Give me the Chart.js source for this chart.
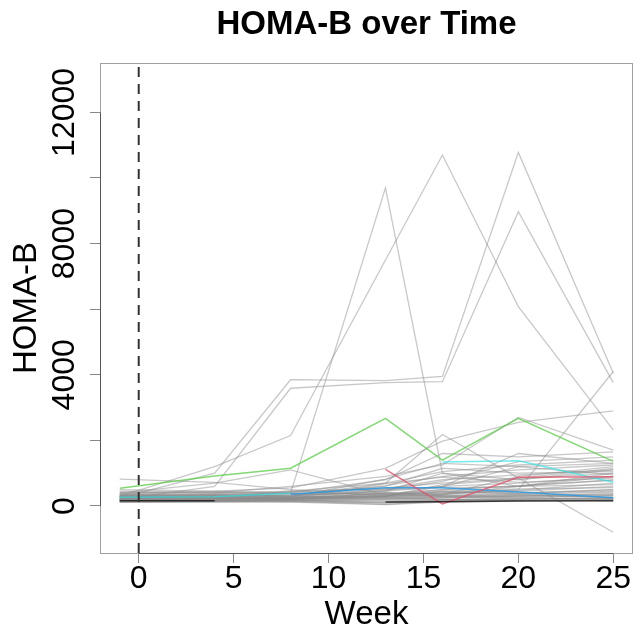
<!DOCTYPE html>
<html>
<head>
<meta charset="utf-8">
<title>HOMA-B over Time</title>
<script src="https://cdn.jsdelivr.net/npm/chart.js@4.4.1/dist/chart.umd.min.js"></script>
<style>
  html, body { margin: 0; padding: 0; background: #fff; }
  #wrap { width: 634px; height: 635px; }
</style>
</head>
<body>
<div id="wrap"><canvas id="homaChart" width="634" height="635"></canvas></div>
<script>
// ---- data ----
var weeks = [-1, 4, 8, 13, 16, 20, 25];
var xTicks = [0, 5, 10, 15, 20, 25];
var yTicks = [0, 2000, 4000, 6000, 8000, 10000, 12000];
var yLabelled = [0, 4000, 8000, 12000];
var baselineWeek = 0;

// highlighted subjects (null = missing visit)
var greenVals = [540, 915, 1150, 2670, 1400, 2670, 1360];
var cyanVals  = [264, 285, 386, null, 1341, 1382, 721];
var blueVals  = [null, null, 356, 559, 559, 427, 254];
var redVals   = [null, null, null, 1118, 61, 874, 894];
var blackVals = [160, 160, null, 120, 130, 150, 160];

// the rest of the subjects, drawn in gray
var grayVals = [
  [300, 1200, 2150, 7500, 10700, 6080, 2320],
  [250, 1000, 3850, 3820, 3950, 10780, 4050],
  [200, 600, 3590, 3760, 3790, 8970, 3760],
  [350, 300, 390, 9700, 1000, 600, 900],
  [300, 250, 450, 700, 2180, 850, -800],
  [400, 450, 550, 1150, 1980, 2550, 2900],
  [250, 300, 200, 400, 350, 500, 4100],
  [450, 400, 600, 900, 1250, 2700, 1700],
  [820, 720, 500, 300, 450, 400, 500],
  [400, 700, 1100, 330, 500, 600, 800],
  [300, 350, 400, 800, 1600, 1500, 1650],
  [180, 200, 230, 260, 300, 350, 420],
  [220, 240, 210, 330, 420, 380, 500],
  [150, 170, 190, 210, 250, 280, 300],
  [300, 280, 320, 450, 600, 700, 900],
  [260, 310, 280, 520, 800, 950, 1100],
  [120, 140, 160, 180, 200, 220, 240],
  [200, 190, 240, 380, 500, 620, 780],
  [350, 380, 300, 620, 900, 1100, 1250],
  [170, 160, 180, 150, 190, 210, 230],
  [240, 260, 300, 700, 1050, 1250, 1400],
  [280, 300, 350, 400, 380, 450, 600],
  [190, 220, 250, 300, 650, 820, 1000],
  [330, 350, 420, 550, 700, 850, 1150],
  [140, 150, 130, 100, 160, 180, 200],
  [210, 230, 280, 820, 1300, 1200, 1300],
  [160, 180, 210, 250, 280, 320, 360],
  [400, 420, 380, 500, 550, 600, 650],
  [250, 270, 230, 290, 350, 900, 1200],
  [130, 120, 150, 50, 150, 200, 260],
  [310, 290, 340, 600, 1150, 1000, 1050],
  [200, 210, 190, 230, 270, 300, 330],
  [270, 250, 260, 350, 450, 520, 560],
  [180, 200, 240, 480, 750, 1350, 1500],
  [230, 240, 270, 310, 400, 480, 700],
  [500, 450, 400, 350, 300, 250, 200],
  [160, 190, 220, 680, 880, 720, 850],
  [290, 320, 280, 250, 200, 180, 150],
  [210, 180, 200, 300, 600, 1600, 1300],
  [140, 160, 200, 280, 320, 400, 450],
  [380, 400, 450, 520, 580, 1200, 950],
  [220, 250, 230, 200, 250, 300, 380],
  [260, 230, 250, 400, 300, 350, 250],
  [170, 150, 170, 120, 180, 250, 320],
  [320, 340, 300, 450, 1000, 800, 1100],
  [200, 220, 260, 300, 350, 600, 1000],
  [110, 130, 120, 40, 120, 150, 180],
  [150, 140, 170, 90, 140, 170, 210]
];

var FONT = '"Liberation Sans", Arial, Helvetica, sans-serif';
var xMin = -2.04, xMax = 26.04;
var yMin = -1433, yMax = 13506;

function toPoints(vals) {
  return weeks.map(function (w, i) { return { x: w, y: vals[i] }; });
}

function lineSet(vals, color, width) {
  return {
    data: toPoints(vals),
    borderColor: color,
    borderWidth: width || 1.3,
    pointRadius: 0,
    tension: 0,
    spanGaps: false,
    fill: false
  };
}

// first dataset is painted last (on top)
var datasets = [];
datasets.push({
  data: [{ x: baselineWeek, y: yMin }, { x: baselineWeek, y: yMax }],
  borderColor: '#333',
  borderWidth: 2,
  borderDash: [10, 7],
  pointRadius: 0,
  fill: false
});
datasets.push(lineSet(blackVals, 'rgba(0,0,0,0.7)', 1.5));
datasets.push(lineSet(redVals, 'rgba(223,83,107,0.8)', 1.5));
datasets.push(lineSet(blueVals, 'rgba(34,151,230,0.8)', 1.5));
datasets.push(lineSet(cyanVals, 'rgba(40,226,229,0.65)', 1.5));
datasets.push(lineSet(greenVals, 'rgba(97,208,79,0.8)', 1.5));
grayVals.forEach(function (v) {
  datasets.push(lineSet(v, 'rgba(140,140,140,0.48)', 1.3));
});

// R style box + axis segments
var boxPlugin = {
  id: 'rbox',
  afterDraw: function (chart) {
    var a = chart.chartArea, ctx = chart.ctx;
    var xs = chart.scales.x, ys = chart.scales.y;
    var l = Math.round(a.left) + 0.5, r = Math.round(a.right) - 0.5;
    var t = Math.round(a.top) + 0.5, b = Math.round(a.bottom) + 0.5;
    ctx.save();
    ctx.lineWidth = 1;
    ctx.strokeStyle = '#a0a0a0';
    ctx.strokeRect(l, t, r - l, b - t);
    ctx.strokeStyle = '#555';
    ctx.beginPath();
    ctx.moveTo(xs.getPixelForValue(xTicks[0]), b);
    ctx.lineTo(xs.getPixelForValue(xTicks[xTicks.length - 1]), b);
    ctx.moveTo(l, ys.getPixelForValue(yTicks[0]));
    ctx.lineTo(l, ys.getPixelForValue(yTicks[yTicks.length - 1]));
    ctx.stroke();
    ctx.restore();
  }
};

var ctx = document.getElementById('homaChart').getContext('2d');
var chart = new Chart(ctx, {
  type: 'line',
  data: { datasets: datasets },
  plugins: [boxPlugin],
  options: {
    responsive: false,
    animation: false,
    layout: { padding: { left: 0, right: 1, top: 0, bottom: 0 } },
    plugins: {
      legend: { display: false },
      tooltip: { enabled: false },
      title: {
        display: true,
        text: 'HOMA-B over Time',
        fullSize: false,
        color: '#000',
        font: { family: FONT, size: 33, weight: 'bold', lineHeight: 1.2 },
        padding: { top: 5, bottom: 18.4 }
      }
    },
    scales: {
      x: {
        type: 'linear',
        min: xMin,
        max: xMax,
        afterBuildTicks: function (s) { s.ticks = xTicks.map(function (v) { return { value: v }; }); },
        afterFit: function (s) { s.height = 82; },
        grid: { drawOnChartArea: false, drawTicks: true, tickLength: 10, color: '#888', lineWidth: 1 },
        border: { display: false },
        ticks: { color: '#000', font: { family: FONT, size: 32 }, padding: -3, maxRotation: 0, autoSkip: false },
        title: { display: true, text: 'Week', color: '#000', font: { family: FONT, size: 33, lineHeight: 1.2 }, padding: { top: 0, bottom: 0 } }
      },
      y: {
        type: 'linear',
        min: yMin,
        max: yMax,
        afterBuildTicks: function (s) { s.ticks = yTicks.map(function (v) { return { value: v }; }); },
        afterFit: function (s) { s.width = 100; },
        grid: { drawOnChartArea: false, drawTicks: true, tickLength: 10, color: '#888', lineWidth: 1 },
        border: { display: false },
        ticks: {
          color: '#000',
          font: { family: FONT, size: 32 },
          minRotation: 90,
          maxRotation: 90,
          crossAlign: 'center',
          padding: -20,
          autoSkip: false,
          callback: function (v) { return yLabelled.indexOf(v) >= 0 ? String(v) : ''; }
        },
        title: { display: true, text: 'HOMA-B', color: '#000', font: { family: FONT, size: 33, lineHeight: 1.2 }, padding: { top: 7, bottom: 0 } }
      }
    }
  }
});
</script>
</body>
</html>
